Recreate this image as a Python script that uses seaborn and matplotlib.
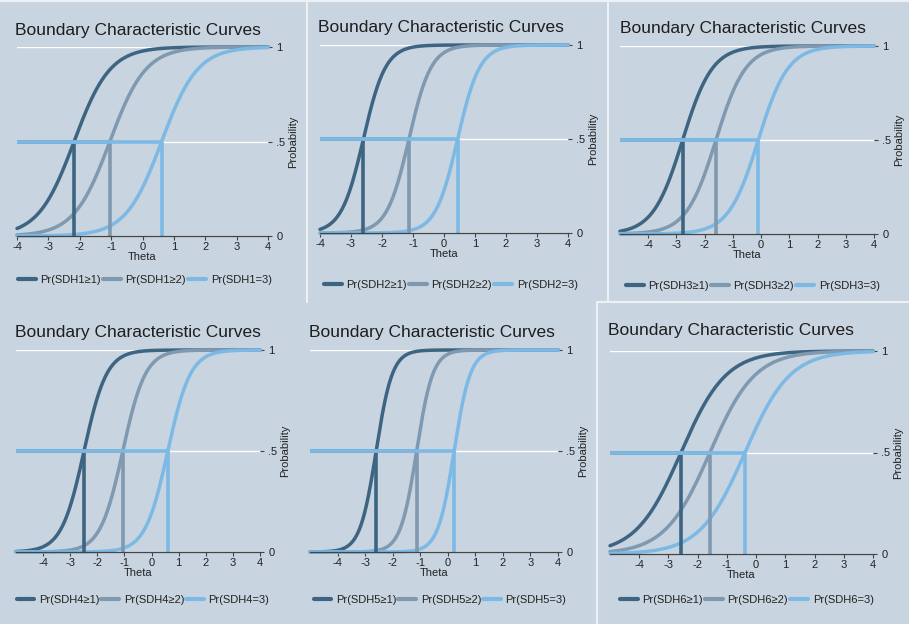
import numpy as np
import pandas as pd
import matplotlib
matplotlib.use("Agg")
import matplotlib.pyplot as plt
from matplotlib.lines import Line2D
import seaborn as sns

# item parameters (graded response model)
items = ["SDH1", "SDH2", "SDH3", "SDH4", "SDH5", "SDH6"]
discrim = [1.75, 2.8, 1.9, 2.4, 3.4, 1.3]
thr_ge1 = [-2.18, -2.6, -2.78, -2.49, -2.6, -2.57]
thr_ge2 = [-1.04, -1.13, -1.6, -1.06, -1.13, -1.58]
thr_eq3 = [0.61, 0.44, -0.1, 0.6, 0.23, -0.38]
theta_min = [-4, -4, -5, -5, -5, -5]
theta_ticks = [-4, -3, -2, -1, 0, 1, 2, 3, 4]
prob_ticks = [0, 0.5, 1]
prob_labels = ["0", ".5", "1"]

bg = "#c8d4df"
cols = ["#3d6582", "#7f99b1", "#7cb9e4"]
W, H = 909, 624

sns.set_theme(style="white", rc={"axes.facecolor": bg, "figure.facecolor": bg})
plt.rcParams["font.family"] = ["Liberation Sans", "DejaVu Sans"]
plt.rcParams["axes.unicode_minus"] = False

fig = plt.figure(figsize=(W / 100, H / 100), dpi=100)

# panel geometry in pixels: x of left edge, x of theta=4, y of prob=1, y of prob=0
boxes = [(17, 268, 47, 236), (320, 568, 45, 233), (620, 874, 46, 234),
         (16, 260, 350, 552), (310, 558, 350, 552), (610, 873, 351, 554)]
titles_at = [(15, 35), (318, 32), (620, 33), (15, 337), (309, 337), (608, 335)]
legend_at = [(145, 280), (451, 285), (753, 286), (143, 600), (440, 600), (747, 600)]

for i, it in enumerate(items):
    x0, x1, y1, y0 = boxes[i]
    ax = fig.add_axes([x0 / W, 1 - y0 / H, (x1 - x0) / W, (y0 - y1) / H])
    b = [thr_ge1[i], thr_ge2[i], thr_eq3[i]]
    labs = [f"Pr({it}≥1)", f"Pr({it}≥2)", f"Pr({it}=3)"]
    th = np.linspace(theta_min[i], 4, 300)
    rows = []
    for bk, lab in zip(b, labs):
        p = 1 / (1 + np.exp(-discrim[i] * (th - bk)))
        rows.append(pd.DataFrame({"Theta": th, "Probability": p, "curve": lab}))
    df = pd.concat(rows)
    sns.lineplot(data=df, x="Theta", y="Probability", hue="curve", palette=cols,
                 linewidth=2.5, ax=ax, legend=False)
    for line in ax.lines:
        line.set_clip_on(False)
    # drop lines at .5
    for bk, c in zip(b, cols):
        ax.plot([theta_min[i], bk], [0.5, 0.5], color=c, lw=2.6, clip_on=False,
                solid_capstyle="butt")
        ax.plot([bk, bk], [0, 0.5], color=c, lw=2.6, clip_on=False,
                solid_capstyle="butt")

    ax.set_xlim(theta_min[i], 4)
    ax.set_ylim(0, 1)
    ax.set_xticks(theta_ticks)
    ax.set_yticks(prob_ticks)
    ax.set_yticklabels(prob_labels)
    ax.yaxis.tick_right()
    ax.yaxis.set_label_position("right")
    ax.grid(axis="y", color="white", lw=1)
    ax.set_axisbelow(True)
    for s in ["top", "left", "right"]:
        ax.spines[s].set_visible(False)
    ax.spines["bottom"].set_color("#444444")
    ax.spines["bottom"].set_linewidth(0.9)
    ax.tick_params(axis="x", bottom=True, length=3, width=0.8, color="#444444",
                   pad=1, labelsize=8, labelcolor="#222222")
    ax.tick_params(axis="y", right=True, left=False, length=3, width=0.8,
                   color="#444444", pad=3, labelsize=8, labelcolor="#222222")
    ax.set_xlabel("Theta", fontsize=8, labelpad=0, color="#222222")
    ax.set_ylabel("Probability", fontsize=8, labelpad=2, color="#222222", rotation=90)

    fig.text(titles_at[i][0] / W, 1 - titles_at[i][1] / H,
             "Boundary Characteristic Curves", fontsize=12.5, color="#1e1e1e",
             va="baseline", ha="left")
    handles = [Line2D([0], [0], color=c, lw=3) for c in cols]
    fig.legend(handles, labs, loc="center", ncol=3, frameon=False,
               bbox_to_anchor=(legend_at[i][0] / W, 1 - legend_at[i][1] / H),
               fontsize=8, handlelength=1.6, handletextpad=0.4,
               columnspacing=0.2, labelcolor="#222222")

# white seams between the pasted panels
seam = "#edf1f5"
for xs, ys in [([306.5, 306.5], [0, 302]), ([607.5, 607.5], [0, 302]),
               ([597, 909], [302.5, 302.5]), ([597, 597], [302, 624]),
               ([0, 909], [1, 1])]:
    fig.add_artist(Line2D([x / W for x in xs], [1 - y / H for y in ys],
                          color=seam, lw=1.5))

fig.savefig("out.png", dpi=100, facecolor=bg)
